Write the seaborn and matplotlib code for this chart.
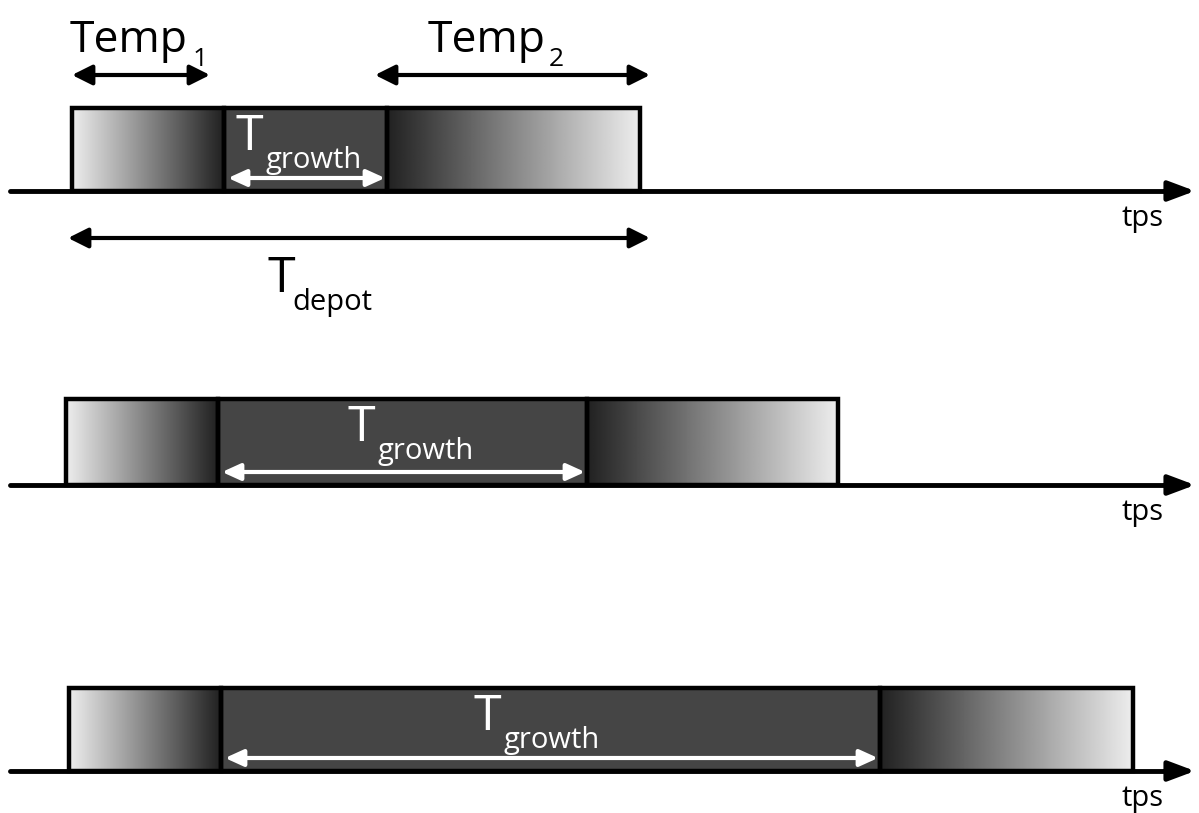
import numpy as np
import matplotlib.pyplot as plt
import seaborn as sns

# three growth scenarios (times in figure units, left to right)
row_axis_y = [191, 485, 771]
row_top_y = [108, 399, 688]
temp1_start = [72, 66, 69]
growth_start = [224, 218, 221]
temp2_start = [387, 587, 880]
temp2_end = [640, 838, 1133]
growth_label_x = [235, 348, 473]

axis_x = [10, 1195]
label_tps = "tps"

sns.set_style("white")
plt.rcParams['font.family'] = ['Open Sans', 'DejaVu Sans']
plt.rcParams['text.color'] = 'black'

fig = plt.figure(figsize=(11.99, 8.13), dpi=100)
ax = fig.add_axes([0, 0, 1, 1])
ax.set_xlim(0, 1199)
ax.set_ylim(813, 0)
ax.axis("off")

ramp = np.linspace(0.93, 0.13, 256).reshape(1, -1)
lw = 3.2


def arrow(x0, x1, y, color, lw=3.0, hw=0.6, hl=1.2):
    ax.annotate("", xy=(x1, y), xytext=(x0, y),
                arrowprops=dict(arrowstyle=f"<|-|>,head_width={hw},head_length={hl}",
                                color=color, lw=lw, shrinkA=0, shrinkB=0))


for i in range(3):
    yb, yt = row_axis_y[i], row_top_y[i]
    a, b, c, d = temp1_start[i], growth_start[i], temp2_start[i], temp2_end[i]
    # time axis
    sns.lineplot(x=[axis_x[0], axis_x[1] - 25], y=[yb, yb], color="black", lw=3.5, ax=ax)
    ax.annotate("", xy=(axis_x[1], yb), xytext=(axis_x[1] - 30, yb),
                arrowprops=dict(arrowstyle="-|>,head_width=0.6,head_length=1.6",
                                color="black", lw=3.5, shrinkA=0, shrinkB=0))
    ax.text(1163, yb + 35, label_tps, fontsize=21, ha="right", va="baseline")
    # gradient segments
    ax.imshow(ramp, cmap="gray", vmin=0, vmax=1, aspect="auto",
              extent=(a, b, yb, yt), zorder=2)
    ax.imshow(ramp[:, ::-1], cmap="gray", vmin=0, vmax=1, aspect="auto",
              extent=(c, d, yb, yt), zorder=2)
    ax.add_patch(plt.Rectangle((b, yt), c - b, yb - yt, facecolor="#454545",
                               edgecolor="none", zorder=2))
    for x0, x1 in [(a, b), (b, c), (c, d)]:
        ax.add_patch(plt.Rectangle((x0, yt), x1 - x0, yb - yt, facecolor="none",
                                   edgecolor="black", lw=lw, zorder=3))
    # growth arrow and label
    arrow(b + 4, c - 2, yb - 13, "white", lw=3.0, hw=0.5, hl=1.1)
    tx = growth_label_x[i]
    ax.text(tx, yt + 42, "T", color="white", fontsize=36, ha="left",
            va="baseline", zorder=5)
    ax.text(tx + 30, yt + 60, "growth", color="white", fontsize=21, ha="left",
            va="baseline", zorder=5)

ax.set_xlim(0, 1199)
ax.set_ylim(813, 0)

# top row annotations
arrow(72, 210, 75, "black")
arrow(375, 650, 75, "black")
ax.text(70, 52, "Temp", fontsize=32, va="baseline")
ax.text(193, 66, "1", fontsize=19, va="baseline")
ax.text(428, 52, "Temp", fontsize=32, va="baseline")
ax.text(549, 66, "2", fontsize=19, va="baseline")
arrow(68, 650, 238, "black")
ax.text(268, 292, "T", fontsize=36, va="baseline")
ax.text(292, 310, "depot", fontsize=21, va="baseline")

fig.savefig("out.png", dpi=100)
